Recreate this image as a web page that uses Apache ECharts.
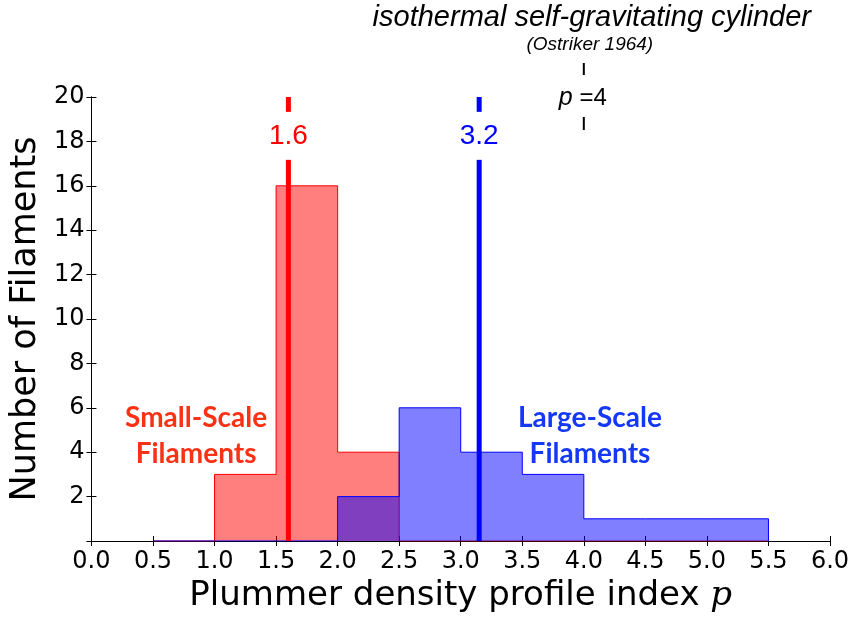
<!DOCTYPE html>
<html>
<head>
<meta charset="utf-8">
<script src="https://cdn.jsdelivr.net/npm/echarts@6/dist/echarts.min.js"></script>
<style>
  html, body { margin: 0; padding: 0; background: #fff; }
  #chart { width: 853px; height: 618px; }
</style>
</head>
<body>
<div id="chart"></div>
<script>
// Histogram bin edges shared by both filament populations
const binEdges = [0.5, 1.0, 1.5, 2.0, 2.5, 3.0, 3.5, 4.0, 4.5, 5.0, 5.5];
// Counts per bin
const smallScaleCounts = [0, 3, 16, 4, 0, 0, 0, 0, 0, 0];
const largeScaleCounts = [0, 0, 0, 2, 6, 4, 3, 1, 1, 1];
// Median profile index of each population
const smallScaleMedian = 1.6;
const largeScaleMedian = 3.15;
// Reference value for an isothermal cylinder
const isothermalP = 4;
// Axis ticks
const yTicks = [2, 4, 6, 8, 10, 12, 14, 16, 18, 20];

const RED = '#ff0000';
const BLUE = '#0000ff';
const TICK_FONT = 'DejaVu Sans';

// Step outline: one point per bin start, then drop back to zero at the last edge
function stepData(edges, counts) {
  const pts = [[edges[0], 0]];
  for (let i = 0; i < counts.length; i++) pts.push([edges[i], counts[i]]);
  pts.push([edges[edges.length - 1], 0]);
  return pts;
}

function fmt1(v) { return (Math.round(v * 10 + 1e-6) / 10).toFixed(1); }

const chart = echarts.init(document.getElementById('chart'), null, { renderer: 'canvas' });

const axisLine = { show: true, lineStyle: { color: '#000', width: 1 } };
const tickInside = { show: true, inside: true, length: 5, lineStyle: { color: '#000', width: 1 } };

const option = {
  animation: false,
  backgroundColor: '#fff',
  grid: { left: 90, right: 23, top: 97, bottom: 76, containLabel: false },
  xAxis: [
    {
      type: 'value', min: 0, max: 6, interval: 0.5, position: 'bottom',
      axisLine, axisTick: tickInside, splitLine: { show: false },
      axisLabel: { formatter: v => v.toFixed(1), color: '#000', fontSize: 24, fontFamily: TICK_FONT, margin: 9 },
      name: 'Plummer density profile index {p|p}',
      nameLocation: 'middle', nameGap: 38,
      nameTextStyle: {
        color: '#000', fontSize: 34, fontFamily: 'DejaVu Sans',
        rich: { p: { fontSize: 34, fontStyle: 'italic', fontFamily: 'DejaVu Serif', color: '#000' } }
      }
    },
    {
      type: 'value', min: 0, max: 6, interval: 0.5, position: 'top',
      axisLine, axisTick: tickInside, axisLabel: { show: false }, splitLine: { show: false }
    }
  ],
  yAxis: [
    {
      type: 'value', min: 0, max: 20, interval: 2, position: 'left',
      axisLine, axisTick: tickInside, splitLine: { show: false },
      axisLabel: { formatter: v => (yTicks.indexOf(v) >= 0 ? String(v) : ''), color: '#000', fontSize: 24, fontFamily: TICK_FONT, margin: 7 },
      name: 'Number of Filaments', nameLocation: 'middle', nameRotate: 90, nameGap: 43,
      nameTextStyle: { color: '#000', fontSize: 35, fontFamily: 'DejaVu Sans' }
    },
    {
      type: 'value', min: 0, max: 20, interval: 2, position: 'right',
      axisLine, axisTick: tickInside, axisLabel: { show: false }, splitLine: { show: false }
    }
  ],
  series: [
    {
      name: 'Small-Scale', type: 'line', step: 'end', symbol: 'none', z: 2,
      data: stepData(binEdges, smallScaleCounts),
      lineStyle: { color: RED, width: 1 },
      areaStyle: { color: 'rgba(255,0,0,0.5)', opacity: 1, origin: 0 }
    },
    {
      name: 'Large-Scale', type: 'line', step: 'end', symbol: 'none', z: 3,
      data: stepData(binEdges, largeScaleCounts),
      lineStyle: { color: BLUE, width: 1 },
      areaStyle: { color: 'rgba(0,0,255,0.5)', opacity: 1, origin: 0 }
    },
    {
      type: 'line', symbol: 'none', z: 4,
      data: [[smallScaleMedian, 0], [smallScaleMedian, 20]],
      lineStyle: { color: RED, width: 5 }
    },
    {
      type: 'line', symbol: 'none', z: 4,
      data: [[largeScaleMedian, 0], [largeScaleMedian, 20]],
      lineStyle: { color: BLUE, width: 5 }
    }
  ]
};

chart.setOption(option);

// Annotations placed from data coordinates
const toPx = v => chart.convertToPixel({ xAxisIndex: 0, yAxisIndex: 0 }, v);
const pTop = toPx([isothermalP, 20]);
const small = toPx([0.85, 4.75]);
const large = toPx([4.05, 4.75]);
const redLbl = toPx([smallScaleMedian, 18.25]);
const blueLbl = toPx([largeScaleMedian, 18.25]);
const px = pTop[0], py = pTop[1];

function medianLabel(pos, value, color) {
  return [
    { type: 'rect', z: 100, shape: { x: pos[0] - 6, y: pos[1] - 24, width: 12, height: 48 }, style: { fill: '#fff' } },
    { type: 'text', z: 101, x: pos[0], y: pos[1], style: {
        text: fmt1(value), align: 'center', verticalAlign: 'middle',
        font: '28px "Liberation Sans"', fill: color
      } }
  ];
}

chart.setOption({
  graphic: [
    { type: 'rect', z: 100, shape: { x: px - 30, y: py - 3, width: 63, height: 6 }, style: { fill: '#fff' } },
    { type: 'text', z: 101, x: px-1, y: py + 1, style: {
        text: '{i|p} =4', align: 'center', verticalAlign: 'middle', fill: '#000',
        font: '24px "Liberation Sans"',
        rich: { i: { fontStyle: 'italic', fontSize: 25, fontFamily: 'Liberation Sans', fill: '#000' } }
      } },
    { type: 'line', z: 101, shape: { x1: px, y1: py - 34, x2: px, y2: py - 22 }, style: { stroke: '#000', lineWidth: 2 } },
    { type: 'line', z: 101, shape: { x1: px, y1: py + 20, x2: px, y2: py + 33 }, style: { stroke: '#000', lineWidth: 2 } },
    { type: 'text', z: 101, x: px + 8, y: 18, style: {
        text: 'isothermal self-gravitating cylinder', align: 'center', verticalAlign: 'middle',
        font: 'italic 29px "Liberation Sans"', fill: '#000'
      } },
    { type: 'text', z: 101, x: px + 6, y: 45, style: {
        text: '(Ostriker 1964)', align: 'center', verticalAlign: 'middle',
        font: 'italic 19px "Liberation Sans"', fill: '#000'
      } },
    { type: 'text', z: 101, x: small[0], y: small[1], style: {
        text: 'Small-Scale\nFilaments', align: 'center', verticalAlign: 'middle', lineHeight: 36,
        font: 'bold 28px Lato', fill: '#fa3214'
      } },
    { type: 'text', z: 101, x: large[0], y: large[1], style: {
        text: 'Large-Scale\nFilaments', align: 'center', verticalAlign: 'middle', lineHeight: 36,
        font: 'bold 28px Lato', fill: '#1438f5'
      } },
    ...medianLabel(redLbl, smallScaleMedian, RED),
    ...medianLabel(blueLbl, largeScaleMedian, BLUE)
  ]
});
</script>
</body>
</html>
